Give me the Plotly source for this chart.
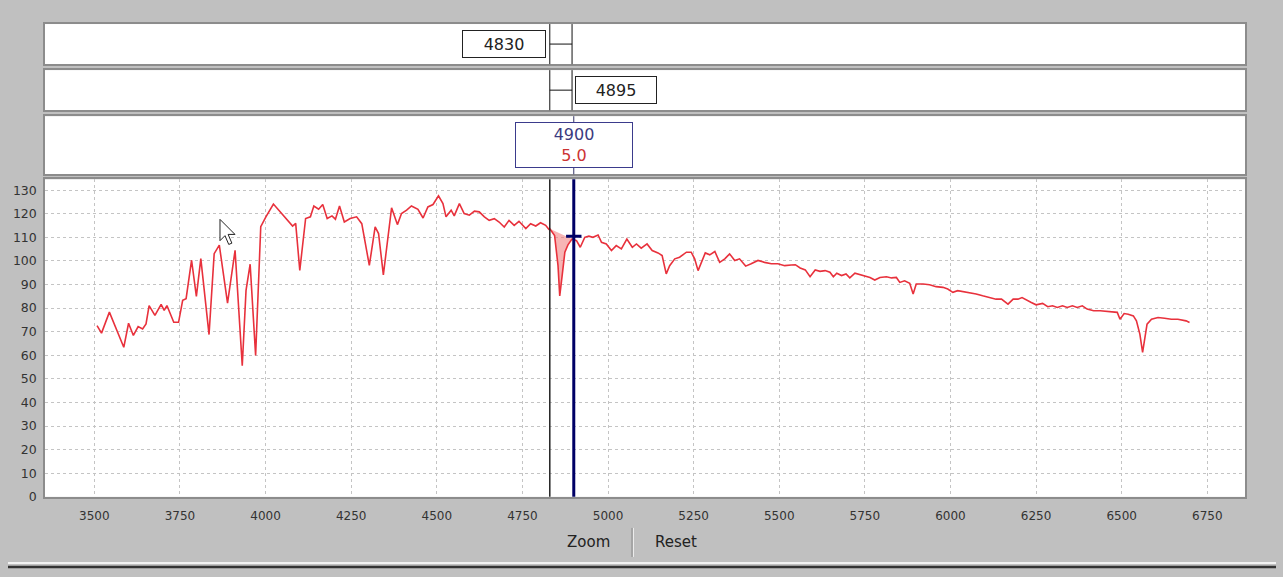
import numpy as np
import plotly.graph_objects as go

# ---------------- data ----------------
wavelength = [
    3508, 3521, 3544, 3563, 3586, 3600, 3614, 3628, 3641, 3651, 3660, 3677, 3695, 3704, 3712,
    3732, 3746, 3758, 3768, 3784, 3798, 3811, 3835, 3850, 3865, 3889, 3911, 3932, 3943, 3955,
    3971, 3986, 4001, 4023, 4040, 4054, 4079, 4088, 4100, 4117, 4131, 4141, 4155, 4167, 4180,
    4194, 4204, 4216, 4230, 4247, 4266, 4281, 4303, 4320, 4330, 4344, 4359, 4368, 4385, 4397,
    4412, 4426, 4445, 4460, 4474, 4489, 4505, 4518, 4527, 4542, 4551, 4566, 4580, 4595, 4610,
    4624, 4639, 4653, 4668, 4682, 4697, 4711, 4726, 4740, 4760, 4774, 4789, 4803, 4818, 4827,
    4830, 4844, 4854, 4859, 4866, 4874, 4883, 4895, 4908, 4919, 4932, 4944, 4956, 4971, 4981,
    4995, 5010, 5024, 5039, 5055, 5071, 5083, 5097, 5114, 5129, 5146, 5158, 5170, 5180, 5195,
    5209, 5229, 5243, 5253, 5263, 5272, 5284, 5297, 5312, 5326, 5341, 5355, 5370, 5384, 5402,
    5418, 5438, 5457, 5477, 5496, 5516, 5535, 5547, 5561, 5576, 5590, 5605, 5619, 5634, 5648,
    5658, 5668, 5682, 5695, 5706, 5721, 5735, 5750, 5765, 5779, 5794, 5813, 5828, 5842, 5852,
    5866, 5881, 5891, 5900, 5920, 5939, 5958, 5978, 5992, 6007, 6021, 6036, 6055, 6075, 6094,
    6113, 6133, 6149, 6159, 6168, 6183, 6197, 6209, 6221, 6236, 6250, 6269, 6284, 6298, 6312,
    6327, 6341, 6356, 6370, 6385, 6399, 6418, 6437, 6457, 6476, 6487, 6495, 6507, 6519, 6534,
    6543, 6553, 6561, 6567, 6574, 6587, 6606, 6625, 6645, 6664, 6678, 6688, 6698,
]
flux = [
    72.6, 69.4, 78.3, 71.9, 63.4, 73.6, 68.4, 72.2, 71.2, 73.3, 81.1, 76.9, 81.6, 79.0, 81.1,
    74.0, 74.0, 83.3, 84.0, 100.3, 85.0, 101.0, 68.8, 103.1, 106.7, 82.1, 104.5, 55.6, 87.5, 98.6,
    59.9, 114.5, 118.7, 124.1, 121.3, 118.7, 114.8, 115.9, 96.0, 118.0, 118.7, 123.3, 121.9, 123.9, 118.0,
    119.1, 117.7, 123.3, 116.5, 118.0, 118.7, 115.8, 98.1, 114.4, 111.6, 94.1, 110.9, 122.5, 115.4, 120.1,
    121.5, 123.3, 121.9, 118.2, 122.9, 123.9, 127.6, 124.3, 118.7, 121.5, 119.1, 124.3, 120.1, 119.4, 121.1,
    120.8, 118.7, 117.2, 117.9, 116.5, 114.4, 117.2, 115.1, 116.8, 113.7, 115.8, 114.8, 116.2, 115.1, 113.4,
    113.6, 110.8, 98.0, 85.2, 93.7, 103.7, 106.8, 109.3, 108.6, 105.8, 110.0, 110.5, 110.0, 111.0, 107.9,
    107.2, 104.4, 106.5, 105.1, 109.3, 105.8, 107.2, 105.4, 107.2, 104.4, 103.4, 102.3, 94.5, 98.0, 100.9,
    101.6, 103.7, 103.7, 100.9, 95.9, 99.4, 103.4, 102.6, 104.0, 99.4, 100.9, 103.0, 100.2, 100.9, 97.8,
    98.8, 100.2, 99.4, 98.8, 98.8, 98.0, 98.3, 98.4, 97.0, 96.2, 93.3, 96.2, 95.6, 95.9, 95.2,
    93.3, 94.8, 93.8, 94.5, 92.8, 94.8, 94.2, 93.8, 93.0, 91.9, 93.0, 93.3, 92.8, 93.0, 90.9,
    91.6, 90.5, 86.0, 90.2, 90.2, 89.9, 89.1, 88.8, 88.1, 86.7, 87.4, 87.1, 86.7, 86.0, 85.2,
    84.5, 83.8, 83.8, 82.8, 81.7, 83.8, 83.8, 84.5, 83.4, 82.4, 81.4, 82.0, 80.6, 81.0, 80.3,
    81.0, 80.3, 81.0, 80.3, 81.0, 79.6, 78.9, 78.9, 78.6, 78.2, 78.2, 75.3, 77.7, 77.4, 76.7,
    74.6, 69.0, 61.2, 66.1, 73.2, 75.3, 76.0, 75.7, 75.3, 75.3, 74.9, 74.6, 73.9,
]

x_ticks = list(range(3500, 6751, 250))
y_ticks = list(range(0, 131, 10))

range_start = 4830          # first marker (top panel)
range_end = 4895            # second marker (middle panel)
cursor_wavelength = 4900    # cursor position
cursor_flux = 110.5
cursor_label = "5.0"

# ---------------- layout helpers ----------------
W, H = 1283, 577      # reference frame used for positions
FIG_H = 585           # rendered page height (photo is scaled back to 577)


def dom_x(p0, p1):
    return [p0 / W, p1 / W]


def dom_y(top, bottom):
    return [1 - bottom / H, 1 - top / H]


def py(p):
    return 1 - p / H


GREY_BG = "#c0c0c0"
RED = "#e8313c"
NAVY = "#000066"
FONT = "DejaVu Sans"

fig = go.Figure()

# shaded region between the two markers (spectrum vs straight continuum)
wl = np.array(wavelength, dtype=float)
fl = np.array(flux, dtype=float)
inside = (wl > range_start) & (wl < cursor_wavelength)
poly_x = np.concatenate([[range_start], wl[inside], [cursor_wavelength]])
poly_y = np.concatenate([[np.interp(range_start, wl, fl)], fl[inside],
                         [np.interp(cursor_wavelength, wl, fl)]])
fig.add_trace(go.Scatter(x=poly_x, y=poly_y, mode="lines", fill="toself",
                         fillcolor="rgba(240,120,120,0.55)",
                         line=dict(width=0), hoverinfo="skip",
                         xaxis="x", yaxis="y"))

# spectrum
fig.add_trace(go.Scatter(x=wavelength, y=flux, mode="lines",
                         line=dict(color=RED, width=1.6),
                         xaxis="x", yaxis="y"))

# cursor cross
fig.add_trace(go.Scatter(x=[cursor_wavelength], y=[cursor_flux], mode="markers",
                         marker=dict(symbol="line-ew-open", size=11, color=NAVY,
                                     line=dict(color=NAVY, width=3)),
                         xaxis="x", yaxis="y", hoverinfo="skip"))

xr = [3356, 6860]
xdom = dom_x(45, 1245)
axis_line = "#8c8c8c"

fig.update_layout(
    width=W, height=FIG_H, autosize=False,
    margin=dict(l=0, r=0, t=0, b=0),
    paper_bgcolor=GREY_BG, plot_bgcolor="white",
    showlegend=False,
    xaxis=dict(domain=xdom, range=xr, anchor="y", tickvals=x_ticks,
               showgrid=True, gridcolor="#c4c4c4", griddash="dot", gridwidth=1,
               showline=True, mirror=True, linecolor=axis_line, linewidth=1.5,
               zeroline=False, ticks="", ticklabelstandoff=7,
               tickfont=dict(family=FONT, size=12, color="#333")),
    yaxis=dict(domain=dom_y(179, 496), range=[0, 134.6], anchor="x", tickvals=y_ticks,
               showgrid=True, gridcolor="#c4c4c4", griddash="dot", gridwidth=1,
               showline=True, mirror=True, linecolor=axis_line, linewidth=1.5,
               zeroline=False, ticks="", ticklabelstandoff=4,
               tickfont=dict(family=FONT, size=12.5, color="#333")),
)

for i, (top, bot) in zip([2, 3, 4], [(116, 174), (70, 110), (24, 64)]):
    fig.update_layout(**{
        f"xaxis{i}": dict(domain=xdom, range=xr, anchor=f"y{i}", matches="x",
                          showticklabels=False, showgrid=False, zeroline=False,
                          showline=True, mirror=True, linecolor=axis_line, linewidth=1.5,
                          ticks=""),
        f"yaxis{i}": dict(domain=dom_y(top, bot), range=[0, 1], anchor=f"x{i}",
                          showticklabels=False, showgrid=False, zeroline=False,
                          showline=True, mirror=True, linecolor=axis_line, linewidth=1.5,
                          ticks=""),
    })
    # invisible trace so the subplot exists
    fig.add_trace(go.Scatter(x=[xr[0]], y=[0], mode="markers", marker=dict(opacity=0),
                             xaxis=f"x{i}", yaxis=f"y{i}", hoverinfo="skip"))

shapes = []
# marker lines in panels 1 and 2
for yref in ["y4 domain", "y3 domain"]:
    for xv in [range_start, range_end]:
        shapes.append(dict(type="line", xref="x", yref=yref, x0=xv, x1=xv, y0=0, y1=1,
                           line=dict(color="#111", width=1)))
    shapes.append(dict(type="line", xref="x", yref=yref, x0=range_start, x1=range_end,
                       y0=0.5, y1=0.5, line=dict(color="#111", width=1)))
# cursor line in panel 3
shapes.append(dict(type="line", xref="x", yref="y2 domain", x0=cursor_wavelength,
                   x1=cursor_wavelength, y0=0, y1=1, line=dict(color="#333366", width=1)))
# main plot vertical lines
shapes.append(dict(type="line", xref="x", yref="y domain", x0=range_start, x1=range_start,
                   y0=0, y1=1, line=dict(color="#222", width=1.5)))
shapes.append(dict(type="line", xref="x", yref="y domain", x0=cursor_wavelength,
                   x1=cursor_wavelength, y0=0, y1=1, line=dict(color=NAVY, width=3)))
# Zoom | Reset divider
shapes.append(dict(type="line", xref="paper", yref="paper", x0=632 / W, x1=632 / W,
                   y0=py(556), y1=py(527), line=dict(color="#8a8a8a", width=1)))
shapes.append(dict(type="line", xref="paper", yref="paper", x0=633.5 / W, x1=633.5 / W,
                   y0=py(556), y1=py(527), line=dict(color="#ececec", width=1)))
# bottom separator
shapes.append(dict(type="line", xref="paper", yref="paper", x0=8 / W, x1=1276 / W,
                   y0=py(562), y1=py(562), line=dict(color="#f2f2f2", width=2)))
shapes.append(dict(type="line", xref="paper", yref="paper", x0=8 / W, x1=1276 / W,
                   y0=py(566), y1=py(566), line=dict(color="#333", width=2.5)))

# mouse pointer visible in the screenshot
tip_x, tip_y, s = 220, 219, 1.25
arrow = [(0, 0), (0, 17), (4, 13), (7, 20), (9.5, 19), (6.5, 12), (12, 12)]
path = "M " + " L ".join(f"{(tip_x + ax * s) / W:.5f},{py(tip_y + ay * s):.5f}"
                         for ax, ay in arrow) + " Z"
shapes.append(dict(type="path", xref="paper", yref="paper", path=path,
                   fillcolor="white", line=dict(color="#222", width=1)))
fig.update_layout(shapes=shapes)

annotations = [
    dict(x=range_start, xref="x", y=0.5, yref="y4 domain", xanchor="right", yanchor="middle",
         xshift=-4, text=str(range_start), showarrow=False,
         font=dict(family=FONT, size=16, color="#222"),
         bgcolor="white", bordercolor="#222", borderwidth=1, borderpad=2,
         width=78, height=22),
    dict(x=range_end, xref="x", y=0.5, yref="y3 domain", xanchor="left", yanchor="middle",
         xshift=3, text=str(range_end), showarrow=False,
         font=dict(family=FONT, size=16, color="#222"),
         bgcolor="white", bordercolor="#222", borderwidth=1, borderpad=2,
         width=76, height=22),
    dict(x=cursor_wavelength, xref="x", y=0.5, yref="y2 domain", xanchor="center",
         yanchor="middle", showarrow=False,
         text=(f"<span style='color:#3b3b80'>{cursor_wavelength}</span><br>"
               f"<span style='color:#cc3333'>{cursor_label}</span>"),
         font=dict(family=FONT, size=16),
         bgcolor="white", bordercolor="#3b3b8c", borderwidth=1, borderpad=3,
         width=110, height=38),
    dict(x=588 / W, xref="paper", y=py(541), yref="paper", text="Zoom", showarrow=False,
         xanchor="center", yanchor="middle", font=dict(family=FONT, size=15, color="#222")),
    dict(x=676 / W, xref="paper", y=py(541), yref="paper", text="Reset", showarrow=False,
         xanchor="center", yanchor="middle", font=dict(family=FONT, size=15, color="#222")),
]
fig.update_layout(annotations=annotations)

page_fix = (
    "document.documentElement.style.margin='0';"
    "document.body.style.margin='0';"
    "document.body.style.padding='0';"
    "document.body.style.background='#c0c0c0';"
)
fig.write_html("out.html", config={"displayModeBar": False}, post_script=page_fix)
